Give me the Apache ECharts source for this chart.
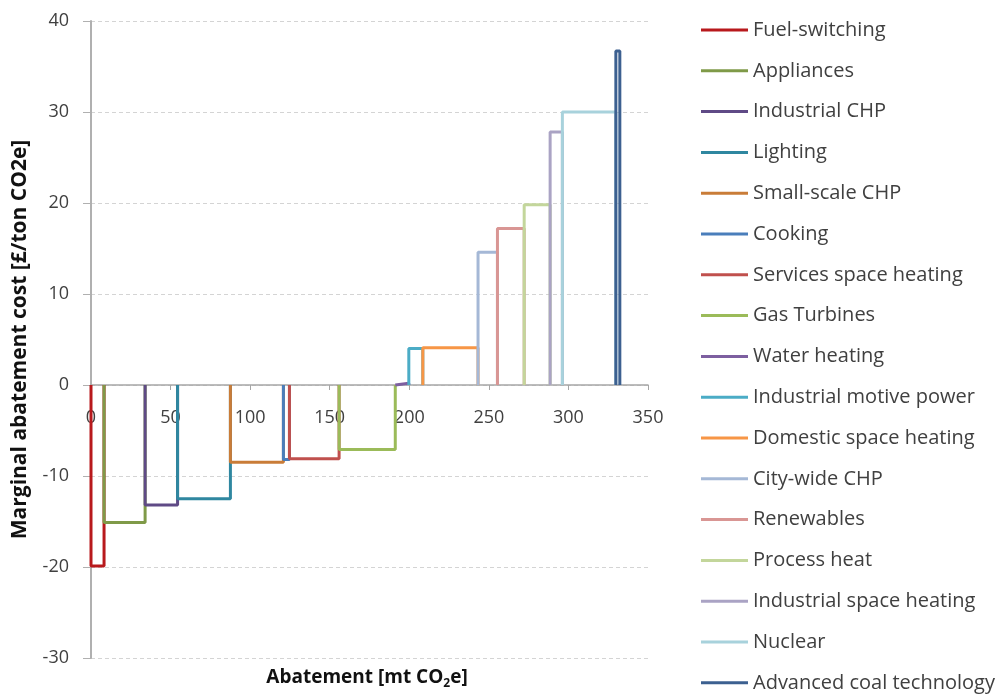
<!doctype html>
<html lang="en">
<head>
<meta charset="UTF-8">
<title>Marginal abatement cost curve</title>
<script src="https://cdn.jsdelivr.net/npm/echarts@6/dist/echarts.min.js"></script>
<style>
  html, body { margin: 0; padding: 0; background: #fff; }
  #main { width: 998px; height: 694px; }
</style>
</head>
<body>
<div id="main"></div>
<script>
// measures, in the order they sit along the curve
var measures = ['Fuel-switching', 'Appliances', 'Industrial CHP', 'Lighting', 'Small-scale CHP',
    'Cooking', 'Services space heating', 'Gas Turbines', 'Water heating', 'Industrial motive power',
    'Domestic space heating', 'City-wide CHP', 'Renewables', 'Process heat',
    'Industrial space heating', 'Nuclear', 'Advanced coal technology'];
// cumulative abatement where each block starts [mt CO2e]
var starts = [0, 8.2, 34.0, 54.4, 87.6, 120.9, 124.7, 155.9, 191.2, 199.7,
    208.5, 243.2, 255.4, 272.2, 288.5, 296.2, 329.8];
var lastEnd = 332.3;
// marginal abatement cost [£/ton CO2e]
var costs = [-19.9, -15.1, -13.2, -12.5, -8.5, -8.2, -8.1, -7.1, 0.2, 4.0,
    4.1, 14.6, 17.2, 19.8, 27.8, 30.0, 36.7];

var palette = ['#b8191c', '#7f9a48', '#5f4a86', '#2f87a0', '#c97c38', '#4a7ebb', '#c0504d',
    '#9bbb59', '#7d5fa0', '#4bacc6', '#f79646', '#a5b8d6', '#d99694', '#c3d69b',
    '#aaa3c4', '#a8d2dc', '#3c6090'];

var font = 'Open Sans';

var series = measures.map(function (name, i) {
    var x0 = starts[i];
    var x1 = i + 1 < starts.length ? starts[i + 1] : lastEnd;
    return {
        name: name,
        type: 'line',
        symbol: 'none',
        color: palette[i],
        lineStyle: { width: 3, color: palette[i] },
        data: [[x0, 0], [x0, costs[i]], [x1, costs[i]], [x1, 0]]
    };
});

var myChart = echarts.init(document.getElementById('main'));

var option = {
    animation: false,
    textStyle: { fontFamily: font },
    grid: { left: 91, top: 21, width: 557, height: 637 },
    legend: {
        orient: 'vertical',
        left: 701,
        top: 20,
        padding: 0,
        icon: 'rect',
        itemWidth: 47,
        itemHeight: 3,
        itemGap: 20.8,
        selectedMode: false,
        textStyle: { fontFamily: font, fontSize: 20, color: '#404040', lineHeight: 20 },
        data: measures
    },
    title: {
        text: '{b|Abatement [mt CO}{s|2}{b|e]}',
        left: 367,
        top: 666,
        padding: 0,
        textAlign: 'center',
        textStyle: {
            rich: {
                b: { fontFamily: font, fontSize: 19, fontWeight: 'bold', color: '#111', lineHeight: 24 },
                s: { fontFamily: font, fontSize: 12, fontWeight: 'bold', color: '#111', lineHeight: 12, verticalAlign: 'bottom' }
            }
        }
    },
    xAxis: {
        type: 'value',
        min: 0,
        max: 350,
        interval: 50,
        position: 'bottom',
        offset: -273,
        axisLine: { onZero: false, lineStyle: { color: '#a6a6a6', width: 1.5 } },
        axisTick: { show: true, length: 5, lineStyle: { color: '#a6a6a6' } },
        axisLabel: { fontSize: 18, color: '#404040', margin: 24 },
        splitLine: { show: false }
    },
    yAxis: {
        type: 'value',
        min: -30,
        max: 40,
        interval: 10,
        name: 'Marginal abatement cost [£/ton CO2e]',
        nameLocation: 'middle',
        nameGap: 60,
        nameTextStyle: { fontFamily: font, fontSize: 21, fontWeight: 'bold', color: '#111' },
        axisLine: { show: true, onZero: false, lineStyle: { color: '#b0b0b0', width: 2 } },
        axisTick: { show: true, length: 8, lineStyle: { color: '#b0b0b0' } },
        axisLabel: { fontSize: 18, color: '#404040', margin: 22 },
        splitLine: { show: true, lineStyle: { color: '#d4d4d4', type: [4, 3] } }
    },
    series: series
};

myChart.setOption(option);
</script>
</body>
</html>
